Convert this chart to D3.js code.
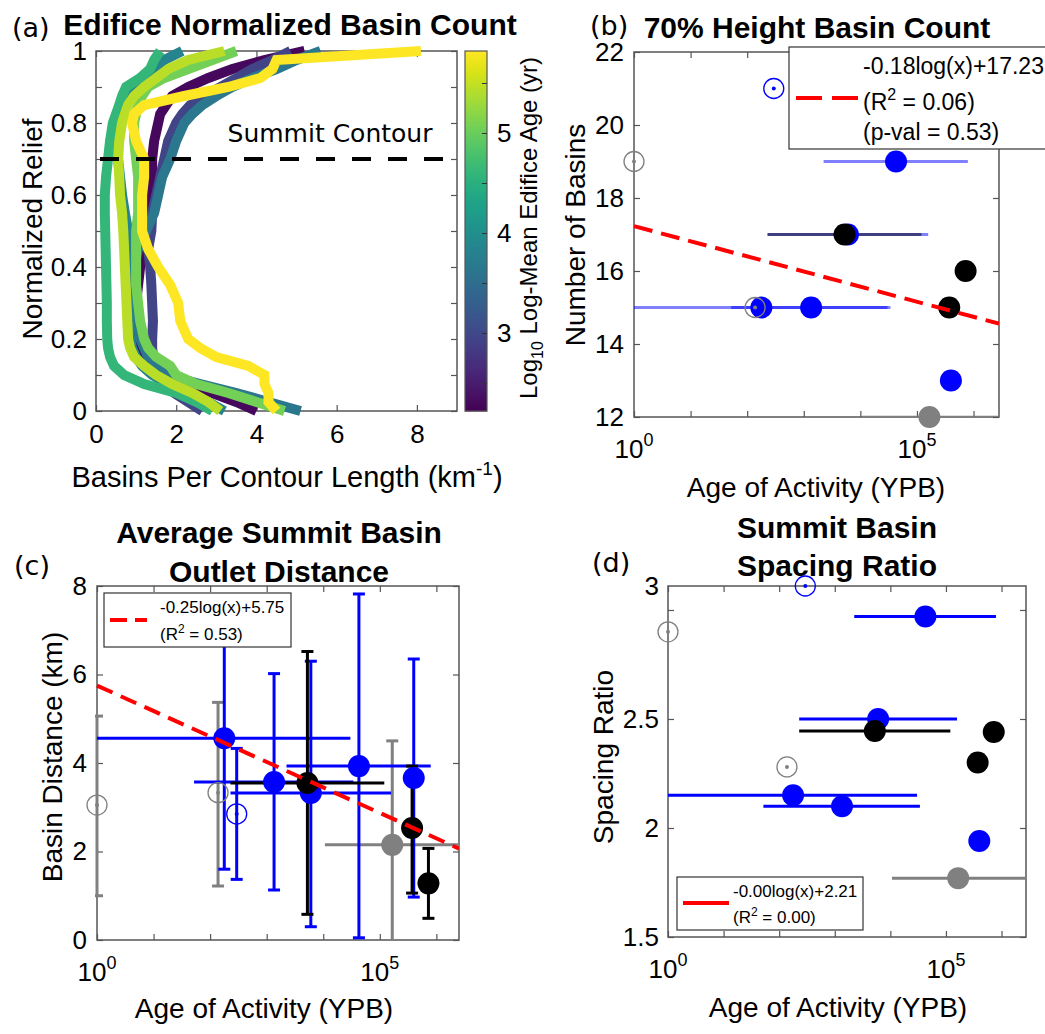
<!DOCTYPE html>
<html>
<head>
<meta charset="utf-8">
<script src="https://cdn.jsdelivr.net/npm/d3@7"></script>
<style>
  body { margin: 0; background: #fff; }
</style>
</head>
<body>
<script>
// ---------- panel (a): basins per contour length along normalized relief, one curve per edifice
var relief = [0, 0.025, 0.05, 0.075, 0.1, 0.125, 0.15, 0.175, 0.2, 0.25, 0.3, 0.35, 0.4, 0.45, 0.5,
              0.55, 0.6, 0.65, 0.7, 0.75, 0.8, 0.825, 0.85, 0.875, 0.9, 0.925, 0.95, 0.975, 1];
var edificeAge = [2.3, 2.95, 3.65, 3.85, 4.6, 5.05, 5.45, 5.82];   // log10 of log-mean edifice age
var edifice1 = [4.0, 3.5, 2.9, 2.1, 1.6, 1.35, 1.2, 1.1, 1.05, 1.0, 1.0, 1.05, 1.1, 1.2, 1.3,
                1.35, 1.35, 1.4, 1.4, 1.45, 1.55, 1.6, 1.75, 1.9, 2.3, 2.8, 3.4, 4.2, 5.2];
var edifice2 = [2.65, 2.3, 1.95, 1.7, 1.55, 1.45, 1.42, 1.4, 1.4, 1.42, 1.4, 1.38, 1.35, 1.3, 1.38,
                1.4, 1.5, 1.6, 1.7, 1.8, 2.0, 2.15, 2.35, 2.7, 3.1, 3.5, 3.9, 4.4, 4.85];
var edifice3 = [5.1, 4.3, 3.5, 2.6, 1.75, 1.45, 1.3, 1.2, 1.1, 1.05, 1.0, 0.97, 0.95, 1.05, 1.25,
                1.45, 1.55, 1.65, 1.85, 2.0, 2.2, 2.4, 2.65, 3.0, 3.4, 3.9, 4.5, 5.0, 5.6];
var edifice4 = [3.2, 2.8, 2.3, 1.8, 1.4, 1.15, 1.0, 0.9, 0.85, 0.82, 0.8, 0.82, 0.85, 0.85, 0.8,
                0.72, 0.65, 0.6, 0.55, 0.55, 0.55, 0.6, 0.7, 0.85, 1.05, 1.3, 1.5, 1.7, 2.15];
var edifice5 = [2.9, 2.5, 2.0, 1.2, 0.7, 0.45, 0.35, 0.3, 0.28, 0.27, 0.27, 0.26, 0.25, 0.24, 0.23,
                0.22, 0.22, 0.25, 0.3, 0.35, 0.42, 0.5, 0.58, 0.65, 0.75, 1.1, 1.35, 1.45, 1.6];
var edifice6 = [4.7, 4.0, 3.3, 2.5, 2.0, 1.85, 1.5, 1.3, 1.2, 1.1, 1.05, 1.0, 1.0, 1.0, 1.0,
                1.05, 1.05, 1.05, 1.0, 0.95, 0.95, 1.0, 1.05, 1.15, 1.3, 1.7, 2.3, 2.9, 3.5];
var edifice7 = [3.1, 2.8, 2.4, 1.9, 1.5, 1.2, 0.95, 0.85, 0.8, 0.78, 0.76, 0.74, 0.72, 0.7, 0.68,
                0.65, 0.6, 0.58, 0.55, 0.58, 0.65, 0.72, 0.8, 0.95, 1.2, 1.5, 1.8, 2.3, 3.2];
var edifice8 = [4.5, 4.3, 4.3, 4.2, 4.2, 3.8, 3.0, 2.6, 2.3, 2.1, 2.05, 1.85, 1.55, 1.3, 1.15,
                1.15, 1.15, 1.2, 1.2, 1.0, 0.9, 0.95, 1.2, 2.2, 3.3, 4.1, 4.4, 4.5, 8.1];
var edificeCurves = [edifice1, edifice2, edifice3, edifice4, edifice5, edifice6, edifice7, edifice8];
var summitRelief = 0.7;

// ---------- panels (b)-(d): one entry per site
var siteType = ["grayOpen", "grayOpen", "blueOpen", "blue", "blue", "black",
                "blue", "blue", "blue", "black", "gray", "black"];
var siteAge  = [1, 138, 295, 178, 1350, 5250, 6030, 42700, 398000, 372000, 166000, 724000];
var ageLow   = [null, null, null, 1, 52, 229, 229, 2240, null, null, 10700, null];
var ageHigh  = [null, null, null, 30200, 34000, 120000, 158000, 794000, null, null, 1e7, null];
var basinCount  = [19, 15, 21, 15, 15, 17, 17, 19, 13, 15, 12, 16];
var outletDist  = [3.05, 3.33, 2.85, 4.56, 3.57, 3.55, 3.32, 3.93, 3.66, 2.53, 2.15, 1.28];
var outletLow   = [1.0, 1.22, 1.37, 1.6, 1.13, 0.58, 0.3, 0.05, 0.97, 1.06, -1, 0.49];
var outletHigh  = [5.06, 5.37, 4.33, 7.0, 6.02, 6.52, 6.3, 7.82, 6.35, 3.93, 4.5, 2.07];
var spacingRatio = [2.90, 2.28, 3.11, 2.15, 2.10, 2.445, 2.50, 2.97, 1.94, 2.30, 1.77, 2.44];
// fits: y = slope*ln(x) + intercept for (b), (c), (d)
var fitSlope = [-0.18, -0.25, -0.00];
var fitIntercept = [17.23, 5.75, 2.21];

var FONT = '"Liberation Sans", Arial, Helvetica, sans-serif';
var DEJA = '"DejaVu Sans", sans-serif';
var axisColor = "#555";
var tickSize = 26, labelSize = 28, titleSize = 30;
var colorOf = { blue: "#0000ff", black: "#000000", gray: "#808080", blueOpen: "#0000ff", grayOpen: "#808080" };

var svg = d3.select("body").append("svg")
  .attr("width", 1045).attr("height", 1034)
  .style("font-family", FONT);
var defs = svg.append("defs");

// draws a MATLAB style boxed axes with inward ticks
function frame(id, x, y, opt) {
  var L = x.range()[0], R = x.range()[1], B = y.range()[0], T = y.range()[1];
  var g = svg.append("g");
  var yFmt = opt.yFmt || d3.format("~g");
  g.append("g").attr("transform", "translate(" + L + ",0)")
    .call(d3.axisLeft(y).tickValues(opt.yTicks).tickSize(-6).tickPadding(opt.yPad).tickFormat(yFmt));
  g.append("g").attr("transform", "translate(" + R + ",0)")
    .call(d3.axisRight(y).tickValues(opt.yTicks).tickSize(-6).tickFormat(""));
  if (opt.log) {
    var decades = [1, 10, 100, 1000, 10000, 100000, 1000000];
    g.append("g").attr("transform", "translate(0," + B + ")")
      .call(d3.axisBottom(x).tickValues(decades).tickSize(-6).tickFormat(""));
    g.append("g").attr("transform", "translate(0," + T + ")")
      .call(d3.axisTop(x).tickValues(decades).tickSize(-6).tickFormat(""));
    [1, 100000].forEach(function(v) {
      var t = g.append("text").attr("x", x(v)).attr("y", B + 41)
        .attr("text-anchor", "middle").attr("font-size", tickSize).text("10");
      t.append("tspan").attr("dy", -12).attr("font-size", 18).text(Math.round(Math.log10(v)));
    });
  } else {
    g.append("g").attr("transform", "translate(0," + B + ")")
      .call(d3.axisBottom(x).tickValues(opt.xTicks).tickSize(-6).tickPadding(opt.xPad).tickFormat(d3.format("~g")));
    g.append("g").attr("transform", "translate(0," + T + ")")
      .call(d3.axisTop(x).tickValues(opt.xTicks).tickSize(-6).tickFormat(""));
  }
  g.selectAll("g").attr("font-size", tickSize).attr("font-family", FONT);
  g.selectAll(".domain").remove();
  g.selectAll(".tick line").attr("stroke", axisColor).attr("stroke-width", 1.2);
  g.append("rect").attr("x", L).attr("y", T).attr("width", R - L).attr("height", B - T)
    .attr("fill", "none").attr("stroke", axisColor).attr("stroke-width", 1.5);
  defs.append("clipPath").attr("id", id).append("rect")
    .attr("x", L - 2).attr("y", T).attr("width", R - L + 2).attr("height", B - T);
  return g;
}

function label(x, y, txt, size, opt) {
  opt = opt || {};
  var t = svg.append("text").attr("font-size", size)
    .attr("text-anchor", opt.anchor || "middle")
    .attr("font-weight", opt.bold ? "bold" : null)
    .attr("font-family", opt.family || FONT);
  if (opt.rotate) t.attr("transform", "translate(" + x + "," + y + ") rotate(-90)");
  else t.attr("x", x).attr("y", y);
  t.text(txt);
  return t;
}

// ================= panel (a)
var xA = d3.scaleLinear().domain([0, 9]).range([96, 457]);
var yA = d3.scaleLinear().domain([0, 1]).range([411, 51]);
var ageColor = d3.scaleSequential(d3.interpolateViridis).domain([2.22, 5.82]);
frame("clipA", xA, yA, {
  yTicks: [0, 0.1, 0.2, 0.3, 0.4, 0.5, 0.6, 0.7, 0.8, 0.9, 1],
  yFmt: function(d) { return Math.round(d * 10) % 2 === 0 ? d3.format("~g")(d) : ""; },
  xTicks: [0, 2, 4, 6, 8], xPad: 14, yPad: 9
});

var lineA = d3.line().x(function(d) { return xA(d[1]); }).y(function(d) { return yA(d[0]); });
edificeCurves.forEach(function(c, i) {
  svg.append("path").datum(d3.zip(relief, c))
    .attr("d", lineA).attr("fill", "none")
    .attr("stroke", ageColor(edificeAge[i])).attr("stroke-width", 10)
    .attr("stroke-linejoin", "miter");
});
svg.append("line")
  .attr("x1", xA(0.1)).attr("x2", xA(9)).attr("y1", yA(summitRelief)).attr("y2", yA(summitRelief))
  .attr("stroke", "#000").attr("stroke-width", 4).attr("stroke-dasharray", "19,17");
label(330, 142, "Summit Contour", 25, { family: DEJA });

// colour bar
var cb = d3.scaleLinear().domain([2.22, 5.82]).range([411, 51]);
var cbSteps = d3.range(0, 360);
svg.append("g").selectAll("rect").data(cbSteps).enter().append("rect")
  .attr("x", 465).attr("width", 22)
  .attr("y", function(d) { return 51 + d; }).attr("height", 1.5)
  .attr("fill", function(d) { return ageColor(cb.invert(51 + d + 0.5)); });
svg.append("rect").attr("x", 465).attr("y", 51).attr("width", 22).attr("height", 360)
  .attr("fill", "none").attr("stroke", axisColor).attr("stroke-width", 1.2);
var cbAxis = svg.append("g").attr("transform", "translate(487,0)")
  .call(d3.axisRight(cb).tickValues([2.5, 3, 3.5, 4, 4.5, 5, 5.5]).tickSize(-5).tickPadding(10)
    .tickFormat(function(d) { return d % 1 === 0 ? d : ""; }));
cbAxis.attr("font-size", tickSize).attr("font-family", FONT);
cbAxis.select(".domain").remove();
cbAxis.selectAll(".tick line").attr("stroke", "#333");
var cbl = label(537, 228, "Log", 24, { rotate: true });
cbl.append("tspan").attr("dy", 6).attr("font-size", 16).text("10");
cbl.append("tspan").attr("dy", -6).text(" Log-Mean Edifice Age (yr)");

label(12, 37, "(a)", 27, { anchor: "start", family: DEJA });
label(290, 35, "Edifice Normalized Basin Count", titleSize, { bold: true });
label(42, 229, "Normalized Relief", labelSize, { rotate: true });
var xlA = label(287, 487, "Basins Per Contour Length (km", 29);
xlA.append("tspan").attr("dy", -12).attr("font-size", 19).text("-1");
xlA.append("tspan").attr("dy", 12).text(")");

// ================= scatter helpers
function drawSites(clip, x, y, yVals, opt) {
  var layer = svg.append("g");
  var bars = layer.append("g").attr("clip-path", "url(#" + clip + ")");
  ["gray", "blue", "black"].forEach(function(type) {
    siteType.forEach(function(t, i) {
      if (t !== type) return;
      var c = colorOf[t];
      if (ageLow[i] !== null) {
        bars.append("line")
          .attr("x1", x(ageLow[i])).attr("x2", x(ageHigh[i]))
          .attr("y1", y(yVals[i])).attr("y2", y(yVals[i]))
          .attr("stroke", c).attr("stroke-width", 3).attr("stroke-opacity", opt.barOpacity);
      }
      if (opt.low) {
        var xc = x(siteAge[i]);
        bars.append("line").attr("x1", xc).attr("x2", xc)
          .attr("y1", y(opt.low[i])).attr("y2", y(opt.high[i]))
          .attr("stroke", c).attr("stroke-width", 3);
        [opt.low[i], opt.high[i]].forEach(function(v) {
          bars.append("line").attr("x1", xc - 6).attr("x2", xc + 6)
            .attr("y1", y(v)).attr("y2", y(v)).attr("stroke", c).attr("stroke-width", 3);
        });
      }
      layer.append("circle").attr("cx", x(siteAge[i])).attr("cy", y(yVals[i]))
        .attr("r", 11).attr("fill", c);
    });
  });
  if (opt.low) {
    // open-symbol sites carry vertical bars too
    siteType.forEach(function(t, i) {
      if (t.indexOf("Open") < 0) return;
      var xc = x(siteAge[i]), c = colorOf[t];
      bars.insert("line", ":first-child").attr("x1", xc).attr("x2", xc)
        .attr("y1", y(opt.low[i])).attr("y2", y(opt.high[i]))
        .attr("stroke", c).attr("stroke-width", 3);
      [opt.low[i], opt.high[i]].forEach(function(v) {
        bars.insert("line", ":first-child").attr("x1", xc - 6).attr("x2", xc + 6)
          .attr("y1", y(v)).attr("y2", y(v)).attr("stroke", c).attr("stroke-width", 3);
      });
    });
  }
  siteType.forEach(function(t, i) {
    if (t.indexOf("Open") < 0) return;
    layer.append("circle").attr("cx", x(siteAge[i])).attr("cy", y(yVals[i]))
      .attr("r", 10).attr("fill", "none").attr("stroke", colorOf[t]).attr("stroke-width", 1.3);
    layer.append("circle").attr("cx", x(siteAge[i])).attr("cy", y(yVals[i]))
      .attr("r", 2).attr("fill", colorOf[t]);
  });
}

function fitLine(clip, x, y, k, dash) {
  var ends = x.domain();
  svg.append("g").attr("clip-path", "url(#" + clip + ")").append("path")
    .datum(ends)
    .attr("d", d3.line().x(function(d) { return x(d); })
      .y(function(d) { return y(fitSlope[k] * Math.log(d) + fitIntercept[k]); }))
    .attr("fill", "none").attr("stroke", "#ff0000").attr("stroke-width", 4)
    .attr("stroke-dasharray", dash);
}

function supText(x, y, before, sup, after, size, supSize, rise) {
  var t = label(x, y, before, size, { anchor: "start" });
  t.append("tspan").attr("dy", -rise).attr("font-size", supSize).text(sup);
  t.append("tspan").attr("dy", rise).text(after);
  return t;
}

// ================= panel (b)
var xB = d3.scaleLog().domain([1, Math.pow(10, 6.45)]).range([634, 999]);
var yB = d3.scaleLinear().domain([12, 22]).range([417, 52]);
frame("clipB", xB, yB, { yTicks: [12, 14, 16, 18, 20, 22], yPad: 10, log: true });
drawSites("clipB", xB, yB, basinCount, { barOpacity: 0.5 });
fitLine("clipB", xB, yB, 0, "19,9");

svg.append("rect").attr("x", 789).attr("y", 47).attr("width", 270).attr("height", 102)
  .attr("fill", "#fff").attr("stroke", "#333").attr("stroke-width", 1.2);
svg.append("line").attr("x1", 796).attr("x2", 858).attr("y1", 98).attr("y2", 98)
  .attr("stroke", "#ff0000").attr("stroke-width", 4).attr("stroke-dasharray", "26,10");
label(863, 74, "-0.18log(x)+17.23", 23, { anchor: "start" });
supText(863, 110, "(R", "2", " = 0.06)", 23, 16, 10);
label(863, 140, "(p-val = 0.53)", 23, { anchor: "start" });

label(590, 35, "(b)", 27, { anchor: "start", family: DEJA });
label(817, 38, "70% Height Basin Count", titleSize, { bold: true });
label(585, 235, "Number of Basins", labelSize, { rotate: true });
label(816, 497, "Age of Activity (YPB)", labelSize);

// ================= panel (c)
var xC = d3.scaleLog().domain([1, Math.pow(10, 6.4)]).range([97, 459]);
var yC = d3.scaleLinear().domain([0, 8]).range([940, 586]);
frame("clipC", xC, yC, { yTicks: [0, 2, 4, 6, 8], yPad: 10, log: true });
drawSites("clipC", xC, yC, outletDist, { barOpacity: 1, low: outletLow, high: outletHigh });
fitLine("clipC", xC, yC, 1, "17,9");

svg.append("rect").attr("x", 104).attr("y", 593).attr("width", 187).attr("height", 54)
  .attr("fill", "#fff").attr("stroke", "#333").attr("stroke-width", 1.2);
svg.append("line").attr("x1", 110).attr("x2", 147).attr("y1", 620).attr("y2", 620)
  .attr("stroke", "#ff0000").attr("stroke-width", 4).attr("stroke-dasharray", "17,8");
label(160, 613, "-0.25log(x)+5.75", 17, { anchor: "start" });
supText(160, 640, "(R", "2", " = 0.53)", 17, 12, 7);

label(14, 575, "(c)", 27, { anchor: "start", family: DEJA });
label(279, 543, "Average Summit Basin", titleSize, { bold: true });
label(279, 582, "Outlet Distance", titleSize, { bold: true });
label(62, 757, "Basin Distance (km)", labelSize, { rotate: true });
label(264, 1018, "Age of Activity (YPB)", labelSize);

// ================= panel (d)
var xD = d3.scaleLog().domain([1, Math.pow(10, 6.44)]).range([668, 1026]);
var yD = d3.scaleLinear().domain([1.5, 3.11]).range([937, 586]);
var gD = frame("clipD", xD, yD, { yTicks: [1.5, 2, 2.5, 3], yPad: 9, log: true });
// the top label sits at the upper edge of the box in the original figure
gD.selectAll(".tick text").filter(function(d) { return d === 3; })
  .attr("y", yD(3.11) - yD(3));
drawSites("clipD", xD, yD, spacingRatio, { barOpacity: 1 });

svg.append("rect").attr("x", 677).attr("y", 877).attr("width", 186).attr("height", 53)
  .attr("fill", "#fff").attr("stroke", "#333").attr("stroke-width", 1.2);
svg.append("line").attr("x1", 683).attr("x2", 729).attr("y1", 903).attr("y2", 903)
  .attr("stroke", "#ff0000").attr("stroke-width", 4);
label(733, 897, "-0.00log(x)+2.21", 17, { anchor: "start" });
supText(733, 923, "(R", "2", " = 0.00)", 17, 12, 7);

label(592, 572, "(d)", 27, { anchor: "start", family: DEJA });
label(837, 538, "Summit Basin", titleSize, { bold: true });
label(837, 576, "Spacing Ratio", titleSize, { bold: true });
label(613, 757, "Spacing Ratio", labelSize, { rotate: true });
label(838, 1017, "Age of Activity (YPB)", labelSize);
</script>
</body>
</html>
